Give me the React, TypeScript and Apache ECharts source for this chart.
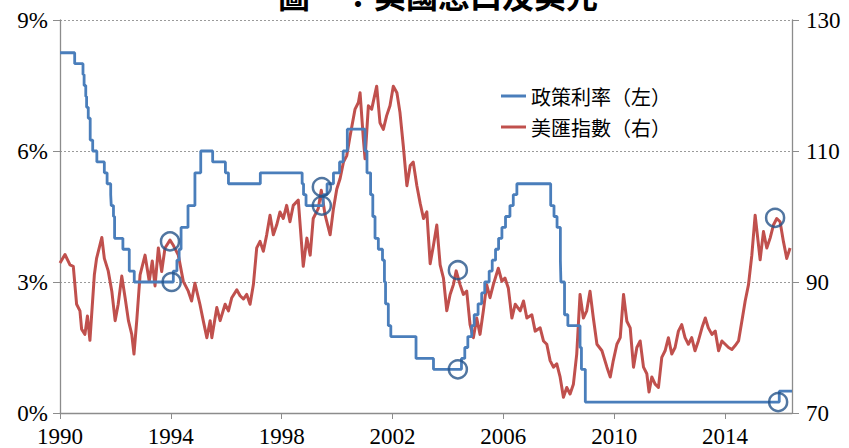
import React, { useEffect, useRef } from "react";
import * as echarts from "echarts";

const titleText = "圖一：美國息口及美元";
const rateName = "政策利率（左）";
const usdName = "美匯指數（右）";
const xTicks = [1990, 1994, 1998, 2002, 2006, 2010, 2014];
const leftTicks = [0, 3, 6, 9];
const rightTicks = [70, 90, 110, 130];

// Fed policy rate (%): [decimal year, new rate]
const policyRate: [number, number][] = [
  [1990.0, 8.25], [1990.53, 8.0], [1990.83, 7.75], [1990.87, 7.5], [1990.93, 7.25],
  [1990.96, 7.0], [1991.02, 6.75], [1991.09, 6.25], [1991.18, 6.0], [1991.33, 5.75],
  [1991.6, 5.5], [1991.7, 5.25], [1991.83, 5.0], [1991.85, 4.75], [1991.93, 4.5],
  [1991.97, 4.0], [1992.27, 3.75], [1992.5, 3.25], [1992.68, 3.0], [1994.09, 3.25],
  [1994.22, 3.5], [1994.3, 3.75], [1994.37, 4.25], [1994.62, 4.75], [1994.87, 5.5],
  [1995.08, 6.0], [1995.51, 5.75], [1995.97, 5.5], [1996.08, 5.25], [1997.23, 5.5],
  [1998.74, 5.25], [1998.79, 5.0], [1998.88, 4.75], [1999.5, 5.0], [1999.64, 5.25],
  [1999.87, 5.5], [2000.09, 5.75], [2000.22, 6.0], [2000.37, 6.5], [2001.01, 6.0],
  [2001.08, 5.5], [2001.21, 5.0], [2001.29, 4.5], [2001.37, 4.0], [2001.49, 3.75],
  [2001.64, 3.5], [2001.71, 3.0], [2001.75, 2.5], [2001.85, 2.0], [2001.94, 1.75],
  [2002.85, 1.25], [2003.48, 1.0], [2004.49, 1.25], [2004.61, 1.5], [2004.72, 1.75],
  [2004.86, 2.0], [2004.95, 2.25], [2005.09, 2.5], [2005.22, 2.75], [2005.33, 3.0],
  [2005.49, 3.25], [2005.6, 3.5], [2005.72, 3.75], [2005.83, 4.0], [2005.95, 4.25],
  [2006.08, 4.5], [2006.24, 4.75], [2006.36, 5.0], [2006.49, 5.25], [2007.71, 4.75],
  [2007.83, 4.5], [2007.94, 4.25], [2008.06, 3.5], [2008.08, 3.0], [2008.21, 2.25],
  [2008.33, 2.0], [2008.77, 1.5], [2008.82, 1.0], [2008.96, 0.25], [2015.96, 0.5],
  [2016.42, 0.5],
];

// US dollar index: [decimal year, index]
const dollarIndex: [number, number][] = [
  [1990.0, 92.9], [1990.18, 94.2], [1990.36, 92.6], [1990.48, 92.4], [1990.6, 86.6],
  [1990.72, 85.6], [1990.78, 82.8], [1990.9, 82.0], [1990.99, 84.8], [1991.08, 81.1],
  [1991.24, 91.1], [1991.32, 93.6], [1991.51, 96.8], [1991.6, 93.6], [1991.74, 91.7],
  [1991.87, 88.6], [1991.99, 84.1], [1992.1, 86.6], [1992.23, 90.9], [1992.35, 87.6],
  [1992.47, 84.1], [1992.59, 82.0], [1992.67, 79.0], [1992.77, 84.1], [1992.89, 91.1],
  [1993.07, 94.1], [1993.22, 90.1], [1993.33, 93.2], [1993.43, 89.4], [1993.55, 95.2],
  [1993.67, 91.6], [1993.79, 95.2], [1993.97, 96.4], [1994.09, 95.6], [1994.27, 94.1],
  [1994.45, 90.1], [1994.63, 88.6], [1994.75, 87.1], [1994.87, 89.8], [1995.05, 86.6],
  [1995.17, 84.1], [1995.3, 81.5], [1995.42, 84.1], [1995.48, 81.5], [1995.66, 86.1],
  [1995.78, 84.1], [1995.96, 86.6], [1996.08, 85.6], [1996.2, 87.6], [1996.38, 88.8],
  [1996.5, 87.9], [1996.62, 87.4], [1996.74, 88.1], [1996.86, 86.6], [1996.98, 89.6],
  [1997.1, 95.2], [1997.22, 96.2], [1997.34, 94.7], [1997.46, 97.2], [1997.58, 100.2],
  [1997.7, 97.2], [1997.82, 98.7], [1997.94, 100.7], [1998.06, 99.7], [1998.18, 101.7],
  [1998.3, 99.2], [1998.42, 101.7], [1998.6, 102.5], [1998.73, 95.2], [1998.78, 92.4],
  [1998.91, 96.7], [1999.03, 94.1], [1999.14, 99.7], [1999.32, 101.2], [1999.43, 104.0],
  [1999.57, 100.2], [1999.75, 97.2], [1999.87, 101.2], [1999.99, 104.2], [2000.11, 105.8],
  [2000.23, 108.3], [2000.35, 109.3], [2000.47, 112.3], [2000.65, 116.4], [2000.77, 117.4],
  [2000.83, 118.9], [2000.95, 111.8], [2001.01, 108.8], [2001.13, 116.9], [2001.25, 116.4],
  [2001.43, 119.9], [2001.55, 114.3], [2001.67, 113.3], [2001.79, 115.4], [2001.91, 116.9],
  [2002.03, 119.9], [2002.16, 118.9], [2002.27, 115.9], [2002.39, 110.8], [2002.52, 104.7],
  [2002.64, 107.8], [2002.75, 108.3], [2002.88, 104.7], [2003.0, 102.0], [2003.12, 99.7],
  [2003.24, 100.7], [2003.36, 92.8], [2003.48, 95.6], [2003.6, 98.7], [2003.72, 92.6],
  [2003.84, 90.6], [2003.96, 85.6], [2004.08, 88.1], [2004.2, 89.6], [2004.3, 91.7],
  [2004.44, 89.6], [2004.56, 88.1], [2004.68, 88.6], [2004.8, 83.5], [2004.92, 81.5],
  [2005.04, 84.5], [2005.16, 82.0], [2005.28, 85.6], [2005.4, 89.6], [2005.52, 87.6],
  [2005.64, 89.6], [2005.82, 92.1], [2005.95, 90.1], [2006.06, 90.6], [2006.18, 89.1],
  [2006.31, 84.5], [2006.43, 86.6], [2006.61, 85.6], [2006.73, 87.1], [2006.85, 84.5],
  [2007.03, 85.0], [2007.15, 82.5], [2007.33, 83.0], [2007.45, 81.0], [2007.57, 80.5],
  [2007.69, 78.0], [2007.81, 77.0], [2007.93, 77.5], [2008.05, 75.5], [2008.17, 72.4],
  [2008.29, 73.9], [2008.41, 72.9], [2008.53, 74.4], [2008.65, 79.0], [2008.77, 88.1],
  [2008.89, 84.5], [2009.01, 85.6], [2009.13, 88.6], [2009.25, 84.5], [2009.38, 80.5],
  [2009.56, 79.5], [2009.74, 77.0], [2009.86, 75.5], [2009.97, 78.0], [2010.1, 80.5],
  [2010.22, 81.5], [2010.34, 88.1], [2010.46, 84.0], [2010.58, 83.0], [2010.7, 77.0],
  [2010.82, 80.0], [2010.94, 81.0], [2011.06, 77.0], [2011.18, 76.0], [2011.26, 73.2],
  [2011.36, 75.5], [2011.48, 74.4], [2011.6, 73.9], [2011.72, 78.5], [2011.84, 79.5],
  [2011.96, 81.5], [2012.08, 79.0], [2012.2, 80.0], [2012.32, 82.5], [2012.44, 83.5],
  [2012.56, 81.5], [2012.68, 80.5], [2012.8, 81.5], [2012.92, 79.5], [2013.04, 81.0],
  [2013.17, 83.0], [2013.29, 84.5], [2013.4, 83.0], [2013.53, 82.0], [2013.65, 82.5],
  [2013.77, 79.5], [2013.89, 81.0], [2014.01, 80.5], [2014.13, 80.0], [2014.25, 79.7],
  [2014.37, 80.3], [2014.49, 81.0], [2014.61, 84.0], [2014.73, 87.1], [2014.85, 89.6],
  [2014.97, 94.1], [2015.09, 100.2], [2015.27, 93.4], [2015.39, 97.7], [2015.51, 95.2],
  [2015.63, 96.7], [2015.75, 98.7], [2015.87, 99.7], [2015.99, 99.2], [2016.11, 96.2],
  [2016.23, 93.6], [2016.35, 95.2],
];

// Highlight circles
const rateMarks: [number, number][] = [
  [1994.03, 3.0], [1999.45, 4.75], [2004.36, 1.0], [2015.92, 0.25],
];
const usdMarks: [number, number][] = [
  [1993.97, 96.2], [1999.45, 104.5], [2004.36, 91.8], [2015.81, 99.8],
];

const serif = "'Liberation Serif', 'Times New Roman', serif";
const cjk = "'Noto Sans CJK TC', 'Noto Sans CJK SC', sans-serif";

export default function App() {
  const ref = useRef<HTMLDivElement>(null);
  useEffect(() => {
    if (!ref.current) return;
    const chart = echarts.init(ref.current, undefined, { renderer: "svg" });
    const axisGray = "#8c8c8c";
    const circleStyle = {
      color: "rgba(0,0,0,0)",
      borderColor: "#26548a",
      borderWidth: 2.5,
    };
    chart.setOption({
      animation: false,
      backgroundColor: "#ffffff",
      grid: { left: 60, right: 57, top: 20, bottom: 32, containLabel: false },
      graphic: [
        {
          type: "text",
          x: 438,
          y: -6,
          style: {
            text: titleText,
            fill: "#000",
            font: `bold 32px ${cjk}`,
            textAlign: "center",
            textVerticalAlign: "middle",
          },
        },
      ],
      legend: {
        data: [rateName, usdName],
        orient: "vertical",
        left: 496,
        top: 80,
        icon: "rect",
        itemWidth: 25,
        itemHeight: 3,
        itemGap: 9,
        textStyle: { fontFamily: cjk, fontSize: 20, color: "#000", lineHeight: 22 },
      },
      xAxis: {
        type: "value",
        min: 1990,
        max: 2016.42,
        interval: 4,
        axisLine: { show: true, lineStyle: { color: axisGray, width: 1.3 } },
        axisTick: { show: true, length: 6, lineStyle: { color: axisGray } },
        axisLabel: {
          show: true,
          showMaxLabel: false,
          margin: 12,
          fontFamily: serif,
          fontSize: 23,
          color: "#000",
          formatter: (v: number) => (xTicks.includes(v) ? String(v) : ""),
        },
        splitLine: { show: false },
      },
      yAxis: [
        {
          type: "value",
          min: leftTicks[0],
          max: leftTicks[leftTicks.length - 1],
          interval: 3,
          axisLine: { show: true, lineStyle: { color: axisGray, width: 1.3 } },
          axisTick: { show: true, length: 7, lineStyle: { color: axisGray } },
          axisLabel: {
            margin: 12,
            fontFamily: serif,
            fontSize: 23,
            color: "#000",
            formatter: (v: number) => `${v}%`,
          },
          splitLine: { show: true, lineStyle: { color: "#9a9a9a", type: [2, 2], width: 1 } },
        },
        {
          type: "value",
          min: rightTicks[0],
          max: rightTicks[rightTicks.length - 1],
          interval: 20,
          position: "right",
          axisLine: { show: true, lineStyle: { color: axisGray, width: 1.3 } },
          axisTick: { show: true, length: 7, lineStyle: { color: axisGray } },
          axisLabel: {
            margin: 14,
            fontFamily: serif,
            fontSize: 23,
            color: "#000",
          },
          splitLine: { show: false },
        },
      ],
      series: [
        {
          name: rateName,
          type: "line",
          step: "end",
          yAxisIndex: 0,
          data: policyRate,
          symbol: "none",
          lineStyle: { color: "#4a7ebb", width: 2.8 },
          itemStyle: { color: "#4a7ebb" },
          z: 3,
        },
        {
          name: usdName,
          type: "line",
          yAxisIndex: 1,
          data: dollarIndex,
          symbol: "none",
          lineStyle: { color: "#c0504d", width: 3, join: "round" },
          itemStyle: { color: "#c0504d" },
          z: 2,
        },
        {
          name: "rateMarks",
          type: "scatter",
          yAxisIndex: 0,
          data: rateMarks,
          symbol: "circle",
          symbolSize: 18,
          itemStyle: circleStyle,
          z: 5,
        },
        {
          name: "usdMarks",
          type: "scatter",
          yAxisIndex: 1,
          data: usdMarks,
          symbol: "circle",
          symbolSize: 18,
          itemStyle: circleStyle,
          z: 5,
        },
      ],
    });
    return () => chart.dispose();
  }, []);
  return (
    <div
      ref={ref}
      style={{ position: "fixed", left: 0, top: 0, width: 849, height: 448, background: "#fff" }}
    />
  );
}
